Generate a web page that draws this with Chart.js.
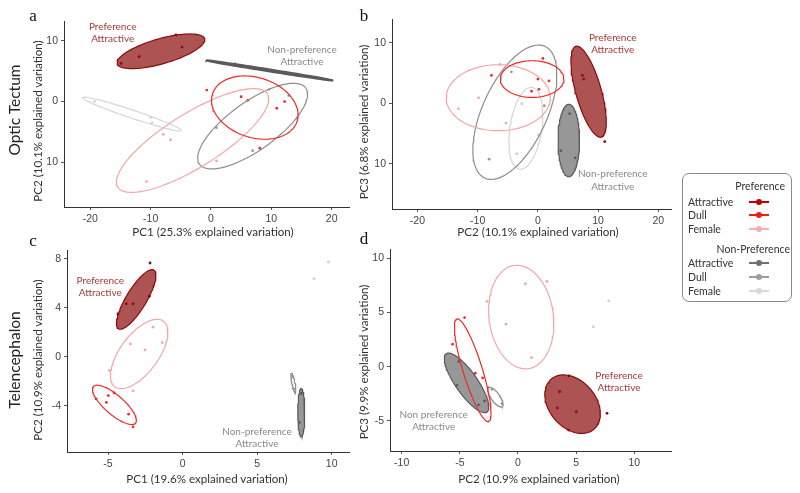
<!DOCTYPE html>
<html><head><meta charset="utf-8">
<script src="https://cdn.jsdelivr.net/npm/chart.js@4"></script>
<style>
body{margin:0;background:#fff;}
#fig{position:relative;width:800px;height:493px;overflow:hidden;background:#fff;font-family:Lato,"Open Sans",sans-serif;color:#333;}
canvas{position:absolute;left:0;top:0;}
.t{position:absolute;white-space:nowrap;transform:translate(-50%,-50%);line-height:1;}
.rot{transform:translate(-50%,-50%) rotate(-90deg);}
#legend{position:absolute;left:682px;top:173px;width:108px;height:127px;border:1px solid #8a8a8a;border-radius:7px;font-size:10.5px;color:#333;}
.lrow{position:absolute;left:5px;white-space:nowrap;line-height:1;transform:translateY(-50%);}
.lhead{position:absolute;white-space:nowrap;line-height:1;transform:translate(-100%,-50%);}
.key{position:absolute;left:66px;width:20px;height:2px;transform:translateY(-50%);}
.key i{position:absolute;left:7px;top:-2px;width:6px;height:6px;border-radius:50%;}
</style></head>
<body><div id="fig">
<canvas id="ca" width="800" height="493"></canvas>
<canvas id="cb" width="800" height="493"></canvas>
<canvas id="cc" width="800" height="493"></canvas>
<canvas id="cd" width="800" height="493"></canvas>
<div id="legend"></div>
</div>
<script>
// ---------------- data ----------------
const GROUPS = ["Preference Attractive","Preference Dull","Preference Female",
                "Non-preference Attractive","Non-preference Dull","Non-preference Female"];

// Panel a: Optic Tectum, PC1 vs PC2
const A_X_TICKS = [-20,-10,0,10,20];
const A_X_LABELS = ["-20","-10","0","10","20"];
const A_Y_TICKS = [-10,0,10];
const A_Y_LABELS = ["10","0","10"];
const A_POINTS = [
  [[-14.9,6.3],[-11.9,7.4],[-5.8,11.0],[-4.8,9.0]],
  [[-0.7,1.9],[5.0,0.8],[6.1,0.2],[10.9,-1.1],[12.2,0.0],[8.1,-7.7]],
  [[-7.9,-5.4],[-6.7,-6.3],[-10.7,-13.2],[0.9,-9.8],[9.6,2.0]],
  [[4.0,6.2],[8.7,5.3]],
  [[0.9,-4.3],[6.9,-8.1],[12.9,1.0]],
  [[-19.3,0.0],[-10.0,-2.6],[-9.8,-3.5]]
];
// ellipse: centre x, centre y, semi-axis 1 (dx,dy), semi-axis 2 (dx,dy)
const A_ELLIPSES = [
  [-8.3,8.3,7.25,2.05,0.55,-2.0],
  [7.26,-0.99,7.0,-2.29,-1.56,-4.70],
  [-3.05,-6.43,12.4,7.7,2.37,-3.77],
  [9.65,5.15,10.45,-1.65,0.02,0.15],
  [6.9,-4.05,8.8,6.3,2.34,-3.21],
  [-13.1,-2.06,8.16,-2.72,-0.21,-0.63]
];

// Panel b: Optic Tectum, PC2 vs PC3
const B_X_TICKS = [-20,-10,0,10,20];
const B_X_LABELS = ["-20","-10","0","10","20"];
const B_Y_TICKS = [-10,0,10];
const B_Y_LABELS = ["10","0","10"];
const B_POINTS = [
  [[7.4,4.6],[7.6,4.0],[11.1,-6.3]],
  [[0.83,7.4],[0.0,4.0],[1.83,3.7],[0.17,2.3],[-1.05,2.0],[-7.7,4.6]],
  [[-6.3,6.4],[-9.85,0.9],[-13.2,-0.9],[-5.3,-3.25]],
  [[5.27,-1.7],[3.8,-7.8],[6.2,-9.0]],
  [[-4.4,5.2],[1.06,-0.4],[-8.1,-9.2]],
  [[-2.66,-0.07],[0.1,-5.2],[-3.5,-8.3]]
];
const B_ELLIPSES = [
  [8.42,1.91,2.11,-7.49,-2.04,-0.56],
  [-0.96,4.0,5.28,0.0,0.0,3.02],
  [-6.58,0.92,8.64,0.0,0.0,5.44],
  [5.13,-6.13,0.0,5.97,1.79,0.0],
  [-3.82,-1.47,5.0,10.85,4.87,-2.21],
  [-2.0,-4.12,1.05,6.74,2.62,-0.40]
];

// Panel c: Telencephalon, PC1 vs PC2
const C_X_TICKS = [-5,0,5,10];
const C_X_LABELS = ["-5","0","5","10"];
const C_Y_TICKS = [-4,0,4,8];
const C_Y_LABELS = ["-4","0","4","8"];
const C_POINTS = [
  [[-2.18,7.65],[-3.77,4.32],[-3.32,4.32],[-2.23,4.94],[-4.33,3.5]],
  [[-5.8,-3.42],[-4.98,-3.15],[-5.11,-3.71],[-4.6,-2.93],[-3.62,-4.67],[-3.32,-5.7]],
  [[-1.98,2.42],[-3.5,1.06],[-2.52,0.57],[-1.36,1.17],[-4.9,-1.1],[-3.32,-2.77]],
  [[7.97,-2.98],[7.82,-5.34]],
  [[7.4,-1.6],[7.45,-2.6]],
  [[8.82,6.38],[9.78,7.74]]
];
const C_ELLIPSES = [
  [-3.11,4.68,1.19,2.39,0.58,-0.43],
  [-4.57,-3.91,1.41,-1.49,-0.42,-0.59],
  [-2.91,0.24,1.63,2.67,1.03,-0.93],
  [7.96,-4.54,0.0,1.97,0.234,0.0],
  [7.43,-2.12,0.134,-0.81,0.1,0.02],
  null
];

// Panel d: Telencephalon, PC2 vs PC3
const D_X_TICKS = [-10,-5,0,5,10];
const D_X_LABELS = ["-10","-5","0","5","10"];
const D_Y_TICKS = [-5,0,5,10];
const D_Y_LABELS = ["-5","0","5","10"];
const D_POINTS = [
  [[4.38,-0.86],[3.58,-2.31],[3.38,-3.81],[5.01,-4.15],[4.35,-5.84],[7.65,-4.3]],
  [[-4.59,4.52],[-5.62,2.07],[-3.67,-0.61],[-3.04,-1.04]],
  [[0.63,7.63],[2.49,7.84],[-2.67,6.0],[-1.03,3.91],[1.17,0.83]],
  [[-5.1,0.46],[-5.25,-1.72],[-3.39,-3.53],[-2.87,-3.16]],
  [[-2.24,-2.09],[-1.38,-3.41]],
  [[7.79,6.06],[6.47,3.66]]
];
const D_ELLIPSES = [
  [4.69,-3.46,1.83,-2.31,-1.53,-1.39],
  [-3.89,-0.33,1.36,-4.72,-0.79,-0.26],
  [0.28,4.56,0.6,-4.75,-2.74,-0.4],
  [-4.42,-1.50,1.75,-2.68,-0.77,-0.58],
  [-1.95,-2.80,0.6,-0.88,-0.3,-0.24],
  null
];

// ---------------- styles ----------------
const LINE_COLORS = ["#8b0a0a","#ee2a2a","#f2a8a8","#5a5a5a","#8e8e8e","#d6d6d6"];
const POINT_COLORS = ["#8b0a0a","#ee2a2a","#f2a8a8","#5a5a5a","#9a9a9a","#cfcfcf"];
const FILL_COLORS = ["rgba(139,10,10,0.70)",null,null,"rgba(90,90,90,0.63)",null,null];
const TICK_FONT = {family:'"Liberation Sans", Arial, sans-serif', size:10.5};

function ellipsePath(e){
  const [cx,cy,ax,ay,bx,by] = e, out = [];
  for(let i=0;i<=90;i++){
    const t = i/90*2*Math.PI;
    out.push({x: cx + Math.cos(t)*ax + Math.sin(t)*bx, y: cy + Math.cos(t)*ay + Math.sin(t)*by});
  }
  return out;
}

function makePanel(id, area, xr, yr, xt, xl, yt, yl, pts, ells, lineW){
  const WY = 32, HX = 22;
  const ds = [];
  ells.forEach((e,g)=>{
    if(!e) return;
    ds.push({data: ellipsePath(e), showLine:true, pointRadius:0, tension:0,
      borderColor: LINE_COLORS[g], borderWidth: (lineW && lineW[g]) || 1.2,
      backgroundColor: FILL_COLORS[g] || 'transparent',
      fill: FILL_COLORS[g] ? 'shape' : false});
  });
  pts.forEach((p,g)=>{
    ds.push({data: p.map(([x,y])=>({x,y})), showLine:false, pointRadius:1.4,
      pointBorderWidth:0, pointBackgroundColor: POINT_COLORS[g], borderColor: POINT_COLORS[g]});
  });
  const axis = (min,max,ticks,labels,isX)=>({
    type:'linear', position: isX ? 'bottom' : 'left', min, max,
    afterBuildTicks: s => { s.ticks = ticks.map(v=>({value:v})); },
    afterFit: s => { if(isX) s.height = HX; else s.width = WY; },
    ticks:{autoSkip:false, maxRotation:0, padding:3, color:'#444', font:TICK_FONT,
      callback: v => labels[ticks.indexOf(v)]},
    grid:{drawOnChartArea:false, drawTicks:true, tickLength:3, color:'#555'},
    border:{display:true, color:'#333', width:1}
  });
  new Chart(document.getElementById(id), {
    type:'scatter',
    data:{datasets: ds},
    options:{
      responsive:false, animation:false, events:[],
      layout:{padding:{left: area[0]-WY, top: area[1], right: 800-area[2], bottom: 493-area[3]-HX}},
      plugins:{legend:{display:false}, tooltip:{enabled:false}},
      scales:{x: axis(xr[0],xr[1],xt,xl,true), y: axis(yr[0],yr[1],yt,yl,false)}
    }
  });
}

makePanel('ca',[64,21,349,207],[-24.36,22.87],[-17.4,13.3],A_X_TICKS,A_X_LABELS,A_Y_TICKS,A_Y_LABELS,A_POINTS,A_ELLIPSES,[0,0,0,2.2,0,0]);
makePanel('cb',[392,19,671,209],[-24.22,22.1],[-17.42,13.9],B_X_TICKS,B_X_LABELS,B_Y_TICKS,B_Y_LABELS,B_POINTS,B_ELLIPSES);
makePanel('cc',[67,250,349,452],[-7.75,11.16],[-7.75,8.71],C_X_TICKS,C_X_LABELS,C_Y_TICKS,C_Y_LABELS,C_POINTS,C_ELLIPSES);
makePanel('cd',[390,249,671,451],[-11.0,13.15],[-7.77,10.83],D_X_TICKS,D_X_LABELS,D_Y_TICKS,D_Y_LABELS,D_POINTS,D_ELLIPSES);

// ---------------- text ----------------
const fig = document.getElementById('fig');
function txt(s,x,y,opt){
  const d = document.createElement('div');
  d.className = 't' + (opt.rot ? ' rot' : '');
  d.textContent = s;
  d.style.left = x+'px'; d.style.top = y+'px';
  d.style.fontSize = (opt.size||10.5)+'px';
  d.style.color = opt.color || '#333';
  if(opt.family) d.style.fontFamily = opt.family;
  fig.appendChild(d);
}
const SERIF = '"Liberation Serif","DejaVu Serif",serif';
const PREF_TXT = '#a83a34', NP_TXT = '#8a8a8a';
const TITLE_SIZE = 11.6;
// panel letters
txt('a',33,15,{size:17,family:SERIF,color:'#111'});
txt('b',364,15,{size:17,family:SERIF,color:'#111'});
txt('c',33,240,{size:17,family:SERIF,color:'#111'});
txt('d',364,238,{size:17,family:SERIF,color:'#111'});
// row labels
txt('Optic Tectum',15,110,{size:15.5,rot:true,color:'#222'});
txt('Telencephalon',15,360,{size:15.5,rot:true,color:'#222'});
// axis titles
txt('PC2 (10.1% explained variation)',37.5,121,{size:TITLE_SIZE,rot:true});
txt('PC1 (25.3% explained variation)',213,232,{size:TITLE_SIZE});
txt('PC3 (6.8% explained variation)',363.5,122,{size:TITLE_SIZE,rot:true});
txt('PC2 (10.1% explained variation)',538,232,{size:TITLE_SIZE});
txt('PC2 (10.9% explained variation)',37.5,360,{size:TITLE_SIZE,rot:true});
txt('PC1 (19.6% explained variation)',207,478.5,{size:TITLE_SIZE});
txt('PC3 (9.9% explained variation)',363.5,362,{size:TITLE_SIZE,rot:true});
txt('PC2 (10.9% explained variation)',539,478.5,{size:TITLE_SIZE});
// group annotations
txt('Preference',112.7,26,{size:10,color:PREF_TXT}); txt('Attractive',112.7,38,{size:10,color:PREF_TXT});
txt('Non-preference',302,49,{size:10,color:NP_TXT}); txt('Attractive',302,61,{size:10,color:NP_TXT});
txt('Preference',612.7,36.7,{size:10,color:PREF_TXT}); txt('Attractive',612.7,49.3,{size:10,color:PREF_TXT});
txt('Non-preference',612.7,173.3,{size:10,color:NP_TXT}); txt('Attractive',612.7,185.7,{size:10,color:NP_TXT});
txt('Preference',100.3,280,{size:10,color:PREF_TXT}); txt('Attractive',100.3,292.3,{size:10,color:PREF_TXT});
txt('Non-preference',257,431,{size:10,color:NP_TXT}); txt('Attractive',257,443.3,{size:10,color:NP_TXT});
txt('Preference',619,375,{size:10,color:PREF_TXT}); txt('Attractive',619,387.3,{size:10,color:PREF_TXT});
txt('Non preference',433.7,413.7,{size:10,color:NP_TXT}); txt('Attractive',433.7,426,{size:10,color:NP_TXT});

// ---------------- legend ----------------
const LEGEND_HEADS = ["Preference","Non-Preference"];
const LEGEND_ITEMS = ["Attractive","Dull","Female"];
const LEGEND_KEY_COLORS = ["#c00000","#f01c1c","#f2b0b0","#707070","#9e9e9e","#d8d8d8"];
const lg = document.getElementById('legend');
function el(cls, html, style){ const d=document.createElement('div'); d.className=cls; d.innerHTML=html; Object.assign(d.style,style); lg.appendChild(d); return d; }
const headY = [12, 75], headX = [102, 107], rowY = [[27.5,41,55],[88.5,103,117]];
LEGEND_HEADS.forEach((h,k)=>{
  el('lhead', h, {left: headX[k]+'px', top: headY[k]+'px'});
  LEGEND_ITEMS.forEach((it,j)=>{
    el('lrow', it, {top: rowY[k][j]+'px'});
    const c = LEGEND_KEY_COLORS[k*3+j];
    el('key', '<i style="background:'+c+'"></i>', {top: rowY[k][j]+'px', background: c});
  });
});
</script>
</body></html>
